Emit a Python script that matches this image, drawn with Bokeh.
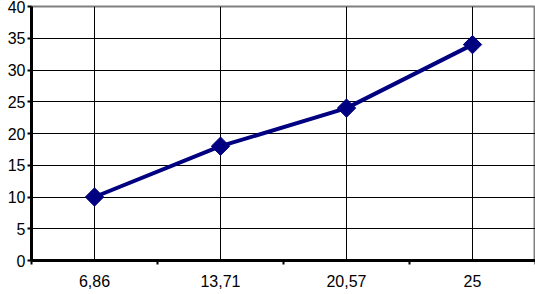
import math
from bokeh.plotting import figure
from bokeh.models import FixedTicker, Range1d
from bokeh.embed import file_html
from bokeh.resources import INLINE

categories = ["6,86", "13,71", "20,57", "25"]
values = [10, 18, 24, 34]
y_ticks = [0, 5, 10, 15, 20, 25, 30, 35, 40]

xs = list(range(1, len(categories) + 1))

p = figure(width=535, height=294, output_backend="svg", toolbar_location=None,
           x_range=Range1d(0.5, len(categories) + 0.5), y_range=Range1d(0, 40),
           min_border_left=31, min_border_right=0, min_border_top=6, min_border_bottom=34)
p.background_fill_color = "white"
p.border_fill_color = "white"
p.outline_line_color = "#808080"
p.outline_line_width = 2

# x axis
p.xaxis.ticker = FixedTicker(ticks=xs, minor_ticks=[x + 0.5 for x in [0] + xs])
p.xaxis.major_label_overrides = {x: c for x, c in zip(xs, categories)}
p.xaxis.major_tick_line_color = None
p.xaxis.major_tick_in = 0
p.xaxis.major_tick_out = 0
p.xaxis.minor_tick_line_color = "black"
p.xaxis.minor_tick_in = 0
p.xaxis.minor_tick_out = 4
p.xaxis.minor_tick_line_width = 2
p.xaxis.axis_line_width = 3
p.xaxis.axis_line_color = "black"
p.xaxis.major_label_standoff = 10
p.xaxis.major_label_text_font = "Liberation Sans"
p.xaxis.major_label_text_font_size = "16px"
p.xaxis.major_label_text_color = "black"

# y axis
p.yaxis.ticker = FixedTicker(ticks=y_ticks)
p.yaxis.minor_tick_line_color = None
p.yaxis.major_tick_in = 0
p.yaxis.major_tick_out = 4
p.yaxis.major_tick_line_width = 2
p.yaxis.axis_line_width = 3
p.yaxis.axis_line_color = "black"
p.yaxis.major_label_standoff = 2
p.yaxis.major_label_text_font = "Liberation Sans"
p.yaxis.major_label_text_font_size = "16px"
p.yaxis.major_label_text_color = "black"

# grids
p.xgrid.ticker = FixedTicker(ticks=xs)
p.xgrid.grid_line_color = "black"
p.xgrid.grid_line_width = 1
p.ygrid.ticker = FixedTicker(ticks=y_ticks[:-1])
p.ygrid.grid_line_color = "black"
p.ygrid.grid_line_width = 1

p.line(xs, values, line_color="#000080", line_width=4)
p.scatter(xs, values, marker="square", angle=math.pi / 4, size=13,
          fill_color="#000080", line_color="#000080")

open("out.html", "w").write(file_html(p, INLINE))
